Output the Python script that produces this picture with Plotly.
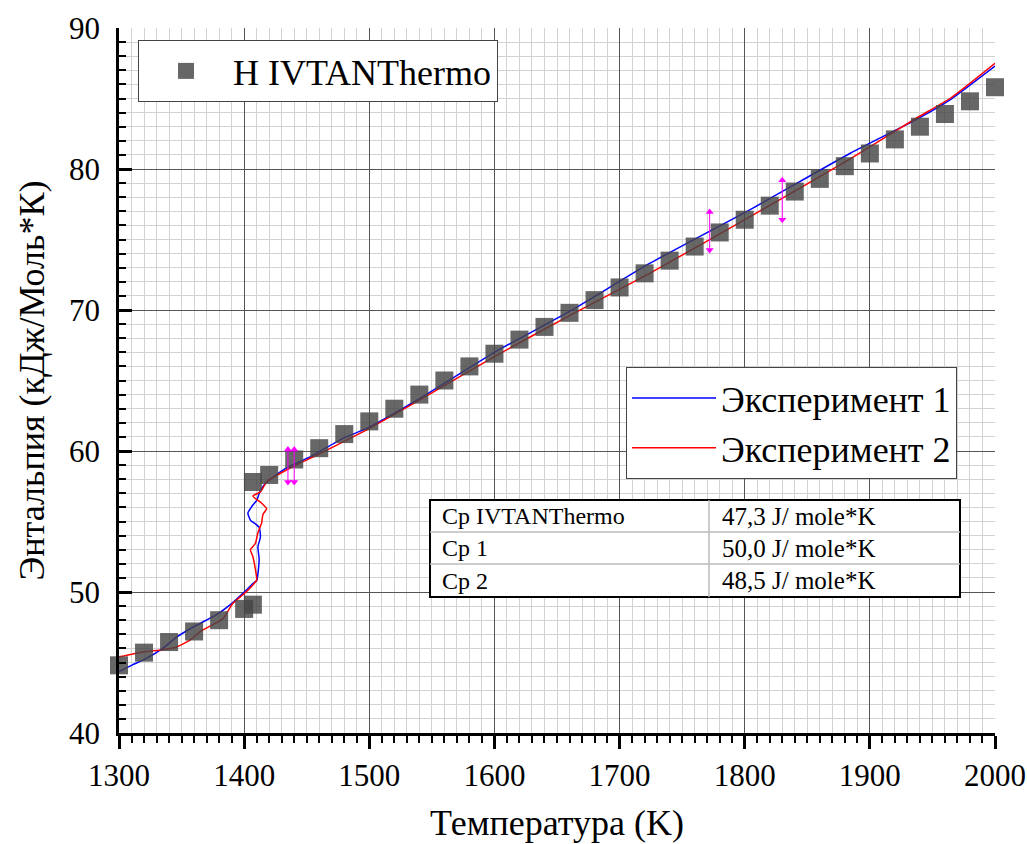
import plotly.graph_objects as go

# ---------------- data ----------------
ivtan_T = [1300, 1320, 1340, 1360, 1380, 1400, 1407, 1407, 1420, 1440, 1460, 1480, 1500,
           1520, 1540, 1560, 1580, 1600, 1620, 1640, 1660, 1680, 1700, 1720, 1740, 1760,
           1780, 1800, 1820, 1840, 1860, 1880, 1900, 1920, 1940, 1960, 1980, 2000]
ivtan_H = [44.8, 45.7, 46.45, 47.2, 48.0, 48.8, 49.1, 57.8, 58.3, 59.4, 60.2, 61.2, 62.1,
           63.0, 64.0, 65.0, 66.0, 66.9, 67.9, 68.8, 69.8, 70.7, 71.6, 72.6, 73.5, 74.5,
           75.5, 76.4, 77.4, 78.4, 79.3, 80.2, 81.1, 82.1, 83.0, 83.9, 84.8, 85.8]

exp1_T = [1300, 1310, 1320, 1335, 1346, 1359, 1378, 1389, 1399, 1407, 1410, 1412, 1411,
          1413, 1412, 1405, 1403, 1406, 1410, 1413, 1418, 1434, 1453, 1479, 1498, 1538,
          1600, 1660, 1724, 1804, 1884, 1937, 1964, 2000]
exp1_H = [44.35, 44.8, 45.2, 46.0, 46.8, 47.5, 48.4, 49.1, 49.9, 50.6, 50.8, 52.3, 53.2,
          53.9, 54.6, 55.1, 55.6, 56.05, 56.5, 57.2, 57.8, 58.8, 59.6, 60.9, 61.6, 63.6,
          67.0, 69.9, 73.3, 77.1, 81.1, 83.5, 84.9, 87.3]

exp2_T = [1300, 1319, 1335, 1346, 1357, 1365, 1383, 1391, 1399, 1407, 1410, 1409, 1407,
          1405, 1409, 1411, 1414, 1415, 1418, 1414, 1407, 1413, 1418, 1439, 1458, 1487,
          1498, 1538, 1600, 1660, 1724, 1804, 1884, 1937, 1964, 2000]
exp2_H = [45.4, 45.75, 45.9, 46.1, 46.6, 47.2, 48.1, 49.2, 49.8, 50.5, 50.85, 51.6, 52.5,
          53.0, 53.45, 54.2, 54.9, 55.5, 55.9, 56.3, 56.8, 57.1, 57.8, 58.9, 59.7, 61.0,
          61.5, 63.5, 66.7, 69.6, 72.6, 76.6, 80.7, 83.6, 85.0, 87.5]

# error arrows (temperature, centre, half-length)
err_T = [1435, 1440, 1772, 1830]
err_H = [58.95, 58.95, 75.6, 77.8]
err_half = [1.15, 1.15, 1.35, 1.4]

table_rows = [["Cp IVTANThermo", "47,3 J/ mole*K"],
              ["Cp 1", "50,0 J/ mole*K"],
              ["Cp 2", "48,5 J/ mole*K"]]

x_ticks = [1300, 1400, 1500, 1600, 1700, 1800, 1900, 2000]
y_ticks = [40, 50, 60, 70, 80, 90]

FONT = "Liberation Serif"

fig = go.Figure()

fig.add_trace(go.Scatter(
    x=exp1_T, y=exp1_H, mode="lines", name="Эксперимент 1",
    line=dict(color="#0000ff", width=1.5, shape="spline", smoothing=0.5),
    legend="legend2"))
fig.add_trace(go.Scatter(
    x=exp2_T, y=exp2_H, mode="lines", name="Эксперимент 2",
    line=dict(color="#ff0000", width=1.5, shape="spline", smoothing=0.5),
    legend="legend2"))

fig.add_trace(go.Scatter(
    x=ivtan_T, y=ivtan_H, mode="markers", name="H IVTANThermo",
    marker=dict(symbol="square", size=18, color="rgba(70,70,70,0.82)",
                line=dict(width=0)),
    legend="legend", cliponaxis=False))

# magenta arrows
for t, h, d in zip(err_T, err_H, err_half):
    fig.add_trace(go.Scatter(x=[t, t], y=[h - d, h + d], mode="lines",
                             line=dict(color="#ff00ff", width=1), showlegend=False,
                             hoverinfo="skip"))
    fig.add_trace(go.Scatter(x=[t], y=[h + d], mode="markers",
                             marker=dict(symbol="triangle-up", size=7, color="#ff00ff"),
                             showlegend=False, hoverinfo="skip"))
    fig.add_trace(go.Scatter(x=[t], y=[h - d], mode="markers",
                             marker=dict(symbol="triangle-down", size=7, color="#ff00ff"),
                             showlegend=False, hoverinfo="skip"))

# ---------------- layout ----------------
W, H = 1027, 844
ML, MR, MT, MB = 119, 32, 28, 111
PW, PH = W - ML - MR, H - MT - MB


def px(xp):
    return (xp - ML) / PW


def py(yp):
    return (H - MB - yp) / PH


fig.update_layout(
    width=W, height=H,
    margin=dict(l=ML, r=MR, t=MT, b=MB, pad=0, autoexpand=False),
    paper_bgcolor="white", plot_bgcolor="white",
    font=dict(family=FONT, color="black"),
    showlegend=True,
    legend=dict(x=px(138), y=py(40), xanchor="left", yanchor="top",
                bgcolor="white", bordercolor="#444", borderwidth=1,
                font=dict(size=36, family=FONT), itemwidth=84,
                tracegroupgap=0),
    legend2=dict(x=px(626), y=py(367), xanchor="left", yanchor="top",
                 bgcolor="white", bordercolor="#444", borderwidth=1,
                 font=dict(size=36, family=FONT), itemwidth=84,
                 tracegroupgap=0),
)

fig.update_xaxes(
    range=[1300, 2000], tickvals=x_ticks, ticktext=[str(v) for v in x_ticks],
    automargin=False,
    showline=True, linecolor="black", linewidth=2.5,
    ticks="outside", ticklen=13, tickwidth=2.5, tickcolor="black",
    showgrid=True, gridcolor="#555555", gridwidth=1,
    zeroline=False,
    tickfont=dict(size=31, family=FONT),
    title=dict(text="Температура (K)", font=dict(size=36, family=FONT), standoff=18),
    minor=dict(dtick=10, tick0=1300, showgrid=True, gridcolor="#d2d2d2", gridwidth=1,
               ticks="outside", ticklen=7, tickwidth=2, tickcolor="black"),
)
fig.update_yaxes(
    range=[40, 90], tickvals=y_ticks, ticktext=[str(v) for v in y_ticks],
    automargin=False,
    showline=True, linecolor="black", linewidth=2.5,
    ticks="inside", ticklen=13, tickwidth=2.5, tickcolor="black",
    showgrid=True, gridcolor="#555555", gridwidth=1,
    zeroline=False,
    tickfont=dict(size=31, family=FONT),
    ticklabelstandoff=10,
    title=dict(text="Энтальпия (кДж/Моль*К)", font=dict(size=36, family=FONT), standoff=14),
    minor=dict(dtick=1, tick0=40, showgrid=True, gridcolor="#d2d2d2", gridwidth=1,
               ticks="inside", ticklen=7, tickwidth=2, tickcolor="black"),
)

# ---------------- table ----------------
tx0, tx1, tdiv = 430, 960, 709
ty = [500, 532, 564, 597]
fig.add_shape(type="rect", xref="paper", yref="paper",
              x0=px(tx0), x1=px(tx1), y0=py(ty[-1]), y1=py(ty[0]),
              fillcolor="white", line=dict(color="black", width=2), layer="above")
for yy in ty[1:-1]:
    fig.add_shape(type="line", xref="paper", yref="paper",
                  x0=px(tx0), x1=px(tx1), y0=py(yy), y1=py(yy),
                  line=dict(color="#bbbbbb", width=1.5), layer="above")
fig.add_shape(type="line", xref="paper", yref="paper",
              x0=px(tdiv), x1=px(tdiv), y0=py(ty[-1]), y1=py(ty[0]),
              line=dict(color="#bbbbbb", width=1.5), layer="above")
for i, (a, b) in enumerate(table_rows):
    yc = (ty[i] + ty[i + 1]) / 2
    fig.add_annotation(xref="paper", yref="paper", x=px(440), y=py(yc), text=a,
                       showarrow=False, xanchor="left", yanchor="middle",
                       font=dict(size=24, family=FONT, color="black"))
    fig.add_annotation(xref="paper", yref="paper", x=px(720), y=py(yc), text=b,
                       showarrow=False, xanchor="left", yanchor="middle",
                       font=dict(size=25, family=FONT, color="black"))

fig.write_html("out.html")
